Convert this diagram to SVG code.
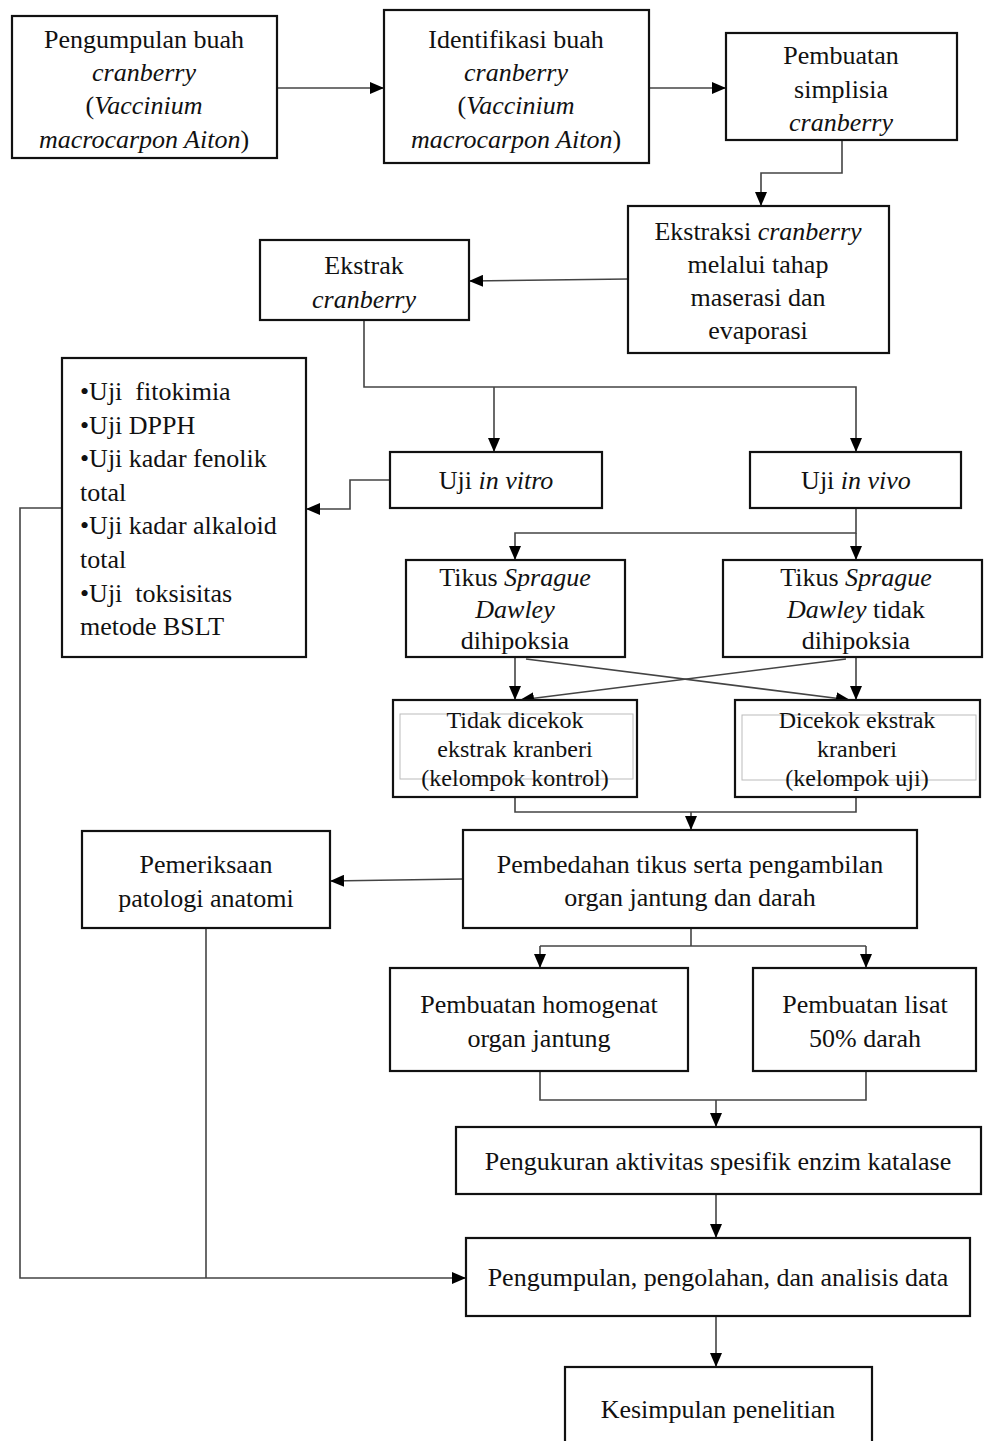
<svg xmlns="http://www.w3.org/2000/svg" width="984" height="1441" viewBox="0 0 984 1441">
<style>
.box{fill:#fff;stroke:#111;stroke-width:2.2}
.inner{fill:none;stroke:#bbb;stroke-width:1}
.t{font-family:"Liberation Serif","Times New Roman",serif;font-size:26px;fill:#111;text-anchor:middle}
.s{font-size:24px}
.l{font-family:"Liberation Serif","Times New Roman",serif;font-size:26px;fill:#111}
.i{font-style:italic}
.c{fill:none;stroke:#444;stroke-width:1.6}
</style>
<defs>
<marker id="ah" viewBox="0 0 14 12" refX="14" refY="6" markerWidth="14" markerHeight="12" markerUnits="userSpaceOnUse" orient="auto">
<path d="M0,0 L14,6 L0,12 z" fill="#000"/>
</marker>
</defs>
<rect width="984" height="1441" fill="#fff"/>
<g id="connectors">
<path class="c" d="M277,88 H384" marker-end="url(#ah)"/>
<path class="c" d="M649,88 H726" marker-end="url(#ah)"/>
<path class="c" d="M842,140 V173 H761 V206" marker-end="url(#ah)"/>
<path class="c" d="M628,279 L469,281" marker-end="url(#ah)"/>
<path class="c" d="M364,320 V387 H856 V452" marker-end="url(#ah)"/>
<path class="c" d="M494,387 V452" marker-end="url(#ah)"/>
<path class="c" d="M390,480 H350 V509 H306" marker-end="url(#ah)"/>
<path class="c" d="M62,508 H20 V1278 H466" marker-end="url(#ah)"/>
<path class="c" d="M206,928 V1278"/>
<path class="c" d="M856,508 V533 H515 V560" marker-end="url(#ah)"/>
<path class="c" d="M856,533 V560" marker-end="url(#ah)"/>
<path class="c" d="M515,657 V700" marker-end="url(#ah)"/>
<path class="c" d="M856,657 V700" marker-end="url(#ah)"/>
<path class="c" d="M526,659 L850,700" marker-end="url(#ah)"/>
<path class="c" d="M846,659 L520,700" marker-end="url(#ah)"/>
<path class="c" d="M515,797 V812 H856 V797"/>
<path class="c" d="M691,812 V830" marker-end="url(#ah)"/>
<path class="c" d="M463,879 L330,881" marker-end="url(#ah)"/>
<path class="c" d="M691,928 V946"/>
<path class="c" d="M540,946 H866"/>
<path class="c" d="M540,946 V968" marker-end="url(#ah)"/>
<path class="c" d="M866,946 V968" marker-end="url(#ah)"/>
<path class="c" d="M540,1071 V1100 H866 V1071"/>
<path class="c" d="M716,1100 V1127" marker-end="url(#ah)"/>
<path class="c" d="M716,1194 V1238" marker-end="url(#ah)"/>
<path class="c" d="M716,1316 V1367" marker-end="url(#ah)"/>
</g>
<g id="n1">
<rect class="box" x="12" y="16" width="265" height="142"/>
<text class="t" x="144" y="48">Pengumpulan buah</text>
<text class="t i" x="144" y="81">cranberry</text>
<text class="t" x="144" y="114">(<tspan class="i">Vaccinium</tspan></text>
<text class="t" x="144" y="148"><tspan class="i">macrocarpon Aiton</tspan>)</text>
</g>
<g id="n2">
<rect class="box" x="384" y="10" width="265" height="153"/>
<text class="t" x="516" y="48">Identifikasi buah</text>
<text class="t i" x="516" y="81">cranberry</text>
<text class="t" x="516" y="114">(<tspan class="i">Vaccinium</tspan></text>
<text class="t" x="516" y="148"><tspan class="i">macrocarpon Aiton</tspan>)</text>
</g>
<g id="n3">
<rect class="box" x="726" y="33" width="231" height="107"/>
<text class="t" x="841" y="64">Pembuatan</text>
<text class="t" x="841" y="98">simplisia</text>
<text class="t i" x="841" y="131">cranberry</text>
</g>
<g id="n4">
<rect class="box" x="628" y="206" width="261" height="147"/>
<text class="t" x="758" y="240">Ekstraksi <tspan class="i">cranberry</tspan></text>
<text class="t" x="758" y="273">melalui tahap</text>
<text class="t" x="758" y="306">maserasi dan</text>
<text class="t" x="758" y="339">evaporasi</text>
</g>
<g id="n5">
<rect class="box" x="260" y="240" width="209" height="80"/>
<text class="t" x="364" y="274">Ekstrak</text>
<text class="t i" x="364" y="308">cranberry</text>
</g>
<g id="n6">
<rect class="box" x="62" y="358" width="244" height="299"/>
<text class="l" x="80" y="400" xml:space="preserve">•Uji  fitokimia</text>
<text class="l" x="80" y="434">•Uji DPPH</text>
<text class="l" x="80" y="467">•Uji kadar fenolik</text>
<text class="l" x="80" y="501">total</text>
<text class="l" x="80" y="534">•Uji kadar alkaloid</text>
<text class="l" x="80" y="568">total</text>
<text class="l" x="80" y="602" xml:space="preserve">•Uji  toksisitas</text>
<text class="l" x="80" y="635">metode BSLT</text>
</g>
<g id="n7">
<rect class="box" x="390" y="452" width="212" height="56"/>
<text class="t" x="496" y="489">Uji <tspan class="i">in vitro</tspan></text>
</g>
<g id="n8">
<rect class="box" x="750" y="452" width="211" height="56"/>
<text class="t" x="856" y="489">Uji <tspan class="i">in vivo</tspan></text>
</g>
<g id="n9">
<rect class="box" x="406" y="560" width="219" height="97"/>
<text class="t" x="515" y="586">Tikus <tspan class="i">Sprague</tspan></text>
<text class="t i" x="515" y="618">Dawley</text>
<text class="t" x="515" y="649">dihipoksia</text>
</g>
<g id="n10">
<rect class="box" x="723" y="560" width="259" height="97"/>
<text class="t" x="856" y="586">Tikus <tspan class="i">Sprague</tspan></text>
<text class="t" x="856" y="618"><tspan class="i">Dawley</tspan> tidak</text>
<text class="t" x="856" y="649">dihipoksia</text>
</g>
<g id="n11">
<rect class="box" x="393" y="700" width="244" height="97"/>
<rect class="inner" x="400" y="714" width="233" height="65"/>
<text class="t s" x="515" y="728">Tidak dicekok</text>
<text class="t s" x="515" y="757">ekstrak kranberi</text>
<text class="t s" x="515" y="786">(kelompok kontrol)</text>
</g>
<g id="n12">
<rect class="box" x="735" y="700" width="245" height="97"/>
<rect class="inner" x="742" y="715" width="234" height="65"/>
<text class="t s" x="857" y="728">Dicekok ekstrak</text>
<text class="t s" x="857" y="757">kranberi</text>
<text class="t s" x="857" y="786">(kelompok uji)</text>
</g>
<g id="n13">
<rect class="box" x="463" y="830" width="454" height="98"/>
<text class="t" x="690" y="873">Pembedahan tikus serta pengambilan</text>
<text class="t" x="690" y="906">organ jantung dan darah</text>
</g>
<g id="n14">
<rect class="box" x="82" y="831" width="248" height="97"/>
<text class="t" x="206" y="873">Pemeriksaan</text>
<text class="t" x="206" y="907">patologi anatomi</text>
</g>
<g id="n15">
<rect class="box" x="390" y="968" width="298" height="103"/>
<text class="t" x="539" y="1013">Pembuatan homogenat</text>
<text class="t" x="539" y="1047">organ jantung</text>
</g>
<g id="n16">
<rect class="box" x="753" y="968" width="223" height="103"/>
<text class="t" x="865" y="1013">Pembuatan lisat</text>
<text class="t" x="865" y="1047">50% darah</text>
</g>
<g id="n17">
<rect class="box" x="456" y="1127" width="525" height="67"/>
<text class="t" x="718" y="1170">Pengukuran aktivitas spesifik enzim katalase</text>
</g>
<g id="n18">
<rect class="box" x="466" y="1238" width="504" height="78"/>
<text class="t" x="718" y="1286">Pengumpulan, pengolahan, dan analisis data</text>
</g>
<g id="n19">
<rect class="box" x="565" y="1367" width="307" height="90"/>
<text class="t" x="718" y="1418">Kesimpulan penelitian</text>
</g>
</svg>
